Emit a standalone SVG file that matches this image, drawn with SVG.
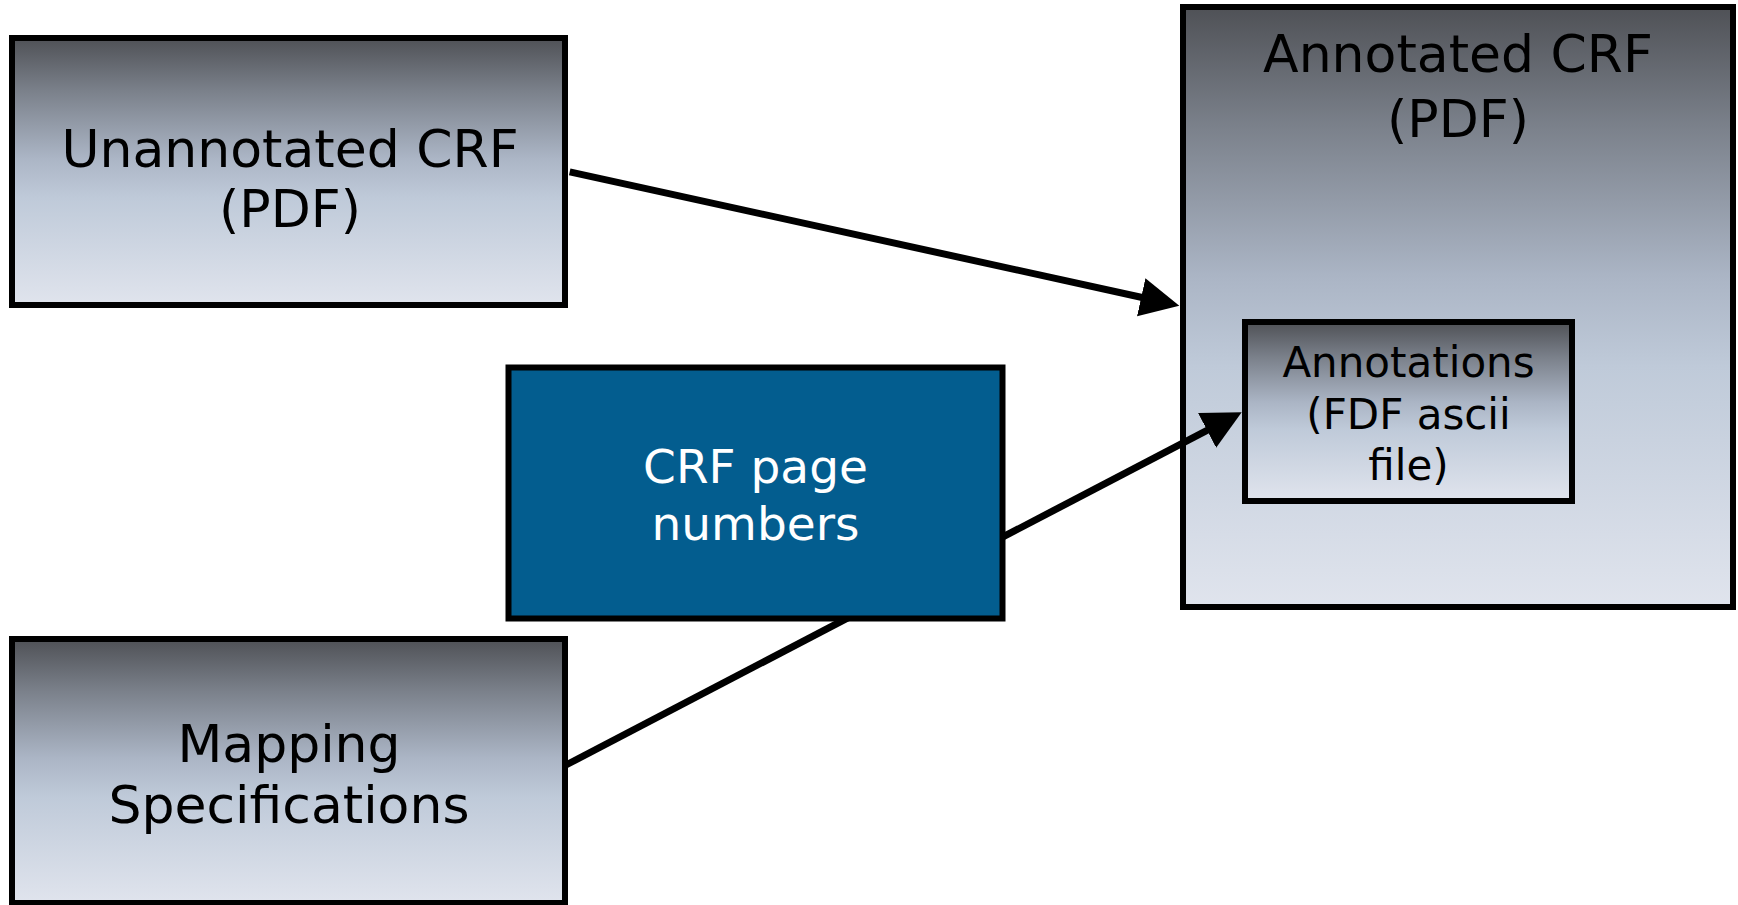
<svg xmlns="http://www.w3.org/2000/svg" width="1738" height="905" viewBox="0 0 1738 905">
<style>
.box{stroke:#000;stroke-width:6}
.g{fill:url(#grad)}
.t{font-family:"DejaVu Sans",Verdana,sans-serif;fill:#000;text-anchor:middle}
.w{fill:#fff}
.c{stroke:#000;stroke-width:7;fill:none}
</style>
<defs>
<linearGradient id="grad" x1="0" y1="0" x2="0" y2="1">
<stop offset="0" stop-color="#4f5156"/>
<stop offset="0.2" stop-color="#7b818b"/>
<stop offset="0.45" stop-color="#abb5c5"/>
<stop offset="0.6" stop-color="#bfcad9"/>
<stop offset="1" stop-color="#e0e4ed"/>
</linearGradient>
<marker id="ah" viewBox="0 0 40 40" refX="1" refY="20" markerWidth="40" markerHeight="40" markerUnits="userSpaceOnUse" orient="auto">
<path d="M0,0.5 L39,20 L0,39.5 z" fill="#000"/>
</marker>
</defs>
<g id="annotated-crf">
<rect class="box g" x="1183" y="7" width="550" height="600"/>
<text class="t" font-size="52" x="1458" y="72">Annotated CRF</text>
<text class="t" font-size="52" x="1458" y="137">(PDF)</text>
</g>
<g id="annotations">
<rect class="box g" x="1245" y="322" width="327" height="179"/>
<text class="t" font-size="42" x="1408.5" y="377">Annotations</text>
<text class="t" font-size="42" x="1408.5" y="429">(FDF ascii</text>
<text class="t" font-size="42" x="1408.5" y="480">file)</text>
</g>
<g id="connectors">
<line class="c" x1="569.7" y1="171.8" x2="1142.2" y2="297.5" marker-end="url(#ah)"/>
<line class="c" x1="566" y1="765" x2="1208" y2="429.9" marker-end="url(#ah)"/>
</g>
<g id="crf-page-numbers">
<rect class="box" fill="#035d8f" x="508.5" y="367.5" width="494" height="251"/>
<text class="t w" font-size="47" x="755.5" y="483">CRF page</text>
<text class="t w" font-size="47" x="755.5" y="540">numbers</text>
</g>
<g id="unannotated-crf">
<rect class="box g" x="12" y="38" width="553" height="267"/>
<text class="t" font-size="52" x="290" y="167">Unannotated CRF</text>
<text class="t" font-size="52" x="290" y="227">(PDF)</text>
</g>
<g id="mapping-specifications">
<rect class="box g" x="12" y="639" width="553" height="264"/>
<text class="t" font-size="52" x="289" y="762">Mapping</text>
<text class="t" font-size="52" x="289" y="823">Specifications</text>
</g>
</svg>
